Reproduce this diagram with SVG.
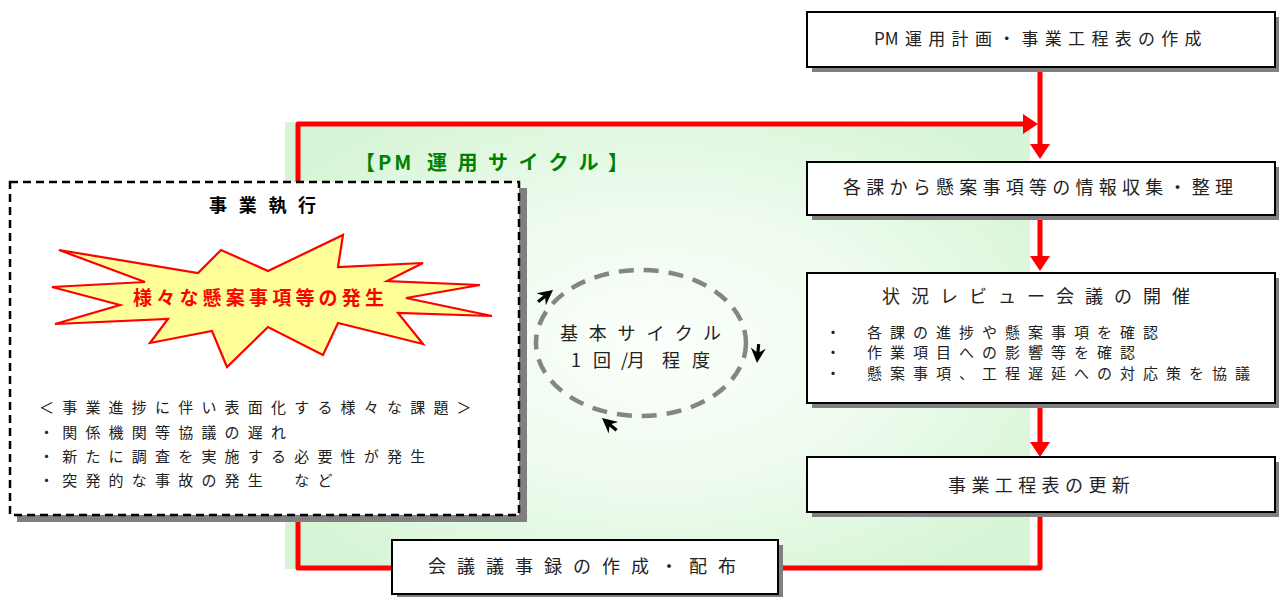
<svg xmlns="http://www.w3.org/2000/svg" width="1279" height="597" viewBox="0 0 1279 597">
<defs>
<radialGradient id="bgGrad" cx="50%" cy="50%" r="62%">
<stop offset="0%" stop-color="#fbfffb"/>
<stop offset="50%" stop-color="#eefbee"/>
<stop offset="100%" stop-color="#d6f5d6"/>
</radialGradient>
<marker id="redHead" viewBox="0 0 15 20" refX="0" refY="10" markerWidth="15" markerHeight="20" markerUnits="userSpaceOnUse" orient="auto">
<path d="M0,0 L15,10 L0,20 Z" fill="#ff0000"/>
</marker>
<path id="smallArrow" d="M0,0 L-15,-7.5 L-10,0 L-15,7.5 Z M-10,-1.6 L-19,-1.6 L-19,1.6 L-10,1.6 Z" fill="#000"/>
</defs>
<style>
.box{fill:#fff;stroke:#000;stroke-width:2}
.shadow{fill:#808080}
.t{font-family:"Noto Sans CJK JP","Noto Sans",sans-serif;fill:#222}
.red{fill:none;stroke:#ff0000;stroke-width:5}
</style>
<rect x="0" y="0" width="1279" height="597" fill="#fff"/>
<g id="cycle-area">
<rect x="285" y="122" width="745" height="447" fill="url(#bgGrad)"/>
<text class="t" y="170" font-size="20" font-weight="bold" fill="#008000" style="fill:#008000"><tspan x="355">【</tspan><tspan x="378" letter-spacing="3">PM </tspan><tspan x="427" letter-spacing="10.5">運用サイクル</tspan><tspan x="608">】</tspan></text>
</g>
<g id="connectors">
<path class="red" d="M1040,512 L1040,568 L298,568 L298,124 L1023,124" stroke-linejoin="round" stroke-linecap="round" marker-end="url(#redHead)"/>
<path class="red" d="M1040,67 L1040,144" marker-end="url(#redHead)"/>
<path class="red" d="M1040,214 L1040,256" marker-end="url(#redHead)"/>
<path class="red" d="M1040,403 L1040,442" marker-end="url(#redHead)"/>
</g>
<g id="node-plan">
<rect class="shadow" x="812" y="17" width="468" height="55"/>
<rect class="box" x="807" y="12" width="468" height="55"/>
<text class="t" y="45" font-size="17"><tspan x="874">PM </tspan><tspan x="905" letter-spacing="6.3">運用計画・事業工程表の作成</tspan></text>
</g>
<g id="node-collect">
<rect class="shadow" x="812" y="167" width="468" height="53"/>
<rect class="box" x="807" y="162" width="468" height="53"/>
<text class="t" x="843" y="194" font-size="18" letter-spacing="5.25">各課から懸案事項等の情報収集・整理</text>
</g>
<g id="node-review">
<rect class="shadow" x="812" y="278" width="468" height="130"/>
<rect class="box" x="807" y="273" width="468" height="130"/>
<text class="t" x="882" y="303" font-size="18" letter-spacing="11">状況レビュー会議の開催</text>
<text class="t" x="825.5" y="338" font-size="15">・</text>
<text class="t" x="825.5" y="358" font-size="15">・</text>
<text class="t" x="825.5" y="379" font-size="15">・</text>
<text class="t" x="867" y="338" font-size="15" letter-spacing="8">各課の進捗や懸案事項を確認</text>
<text class="t" x="867" y="358" font-size="15" letter-spacing="8">作業項目への影響等を確認</text>
<text class="t" x="867" y="379" font-size="15" letter-spacing="8">懸案事項、工程遅延への対応策を協議</text>
</g>
<g id="node-update">
<rect class="shadow" x="812" y="462" width="468" height="55"/>
<rect class="box" x="807" y="457" width="468" height="55"/>
<text class="t" x="948" y="492" font-size="18" letter-spacing="5.4">事業工程表の更新</text>
</g>
<g id="node-minutes">
<rect class="shadow" x="397" y="545" width="386" height="55"/>
<rect class="box" x="392" y="540" width="386" height="54"/>
<text class="t" x="428" y="573" font-size="18" letter-spacing="11">会議議事録の作成・配布</text>
</g>
<g id="node-execution">
<rect class="shadow" x="17" y="188" width="510" height="334"/>
<rect x="10" y="182" width="509" height="333" fill="#fff" stroke="#000" stroke-width="2.5" stroke-dasharray="8 5"/>
<text class="t" x="209" y="212" font-size="18" font-weight="bold" letter-spacing="11.7" style="fill:#000">事業執行</text>
<polygon points="59,250 198,273 221,250 268,271 343,235 338,267 423,263 387,281 480,285 406,298 492,316 398,313 423,344 338,323 323,355 268,327 227,367 212,331 150,343 168,319 55,324 120,305 52,287 145,282" fill="#ffff99" stroke="#ff0000" stroke-width="2.2" stroke-linejoin="miter"/>
<text class="t" x="133" y="305" font-size="19" font-weight="bold" letter-spacing="4.2" style="fill:#ff0000">様々な懸案事項等の発生</text>
<text class="t" x="39" y="413" font-size="15" letter-spacing="8.2">＜事業進捗に伴い表面化する様々な課題＞</text>
<text class="t" x="39" y="438" font-size="15" letter-spacing="8.2">・関係機関等協議の遅れ</text>
<text class="t" x="39" y="462" font-size="15" letter-spacing="8.2">・新たに調査を実施する必要性が発生</text>
<text class="t" x="39" y="486" font-size="15" letter-spacing="8.2">・突発的な事故の発生　など</text>
</g>
<g id="node-basic-cycle">
<ellipse cx="641" cy="343" rx="105" ry="73" fill="none" stroke="#858585" stroke-width="4.5" stroke-dasharray="15 10"/>
<use href="#smallArrow" transform="translate(553,290) rotate(-38)"/>
<use href="#smallArrow" transform="translate(757,363) rotate(95)"/>
<use href="#smallArrow" transform="translate(602,418) rotate(-140)"/>
<text class="t" x="560" y="340" font-size="18" letter-spacing="10.8">基本サイクル</text>
<text class="t" x="571 593 621 627 662 692" y="367" font-size="18">1回/月程度</text>
</g>
</svg>
